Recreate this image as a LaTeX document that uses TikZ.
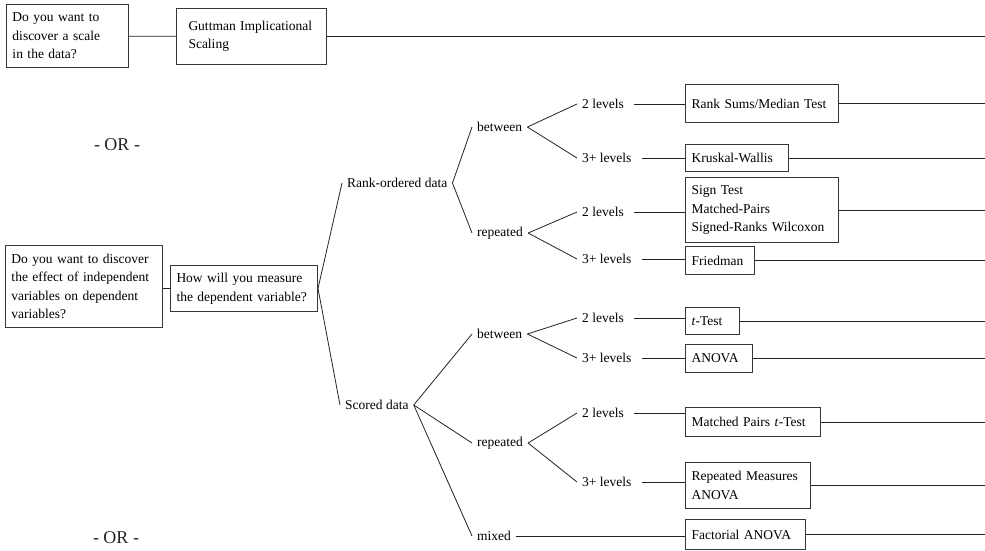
\documentclass[tikz,border=0pt]{standalone}
\usepackage{fontspec}
\setmainfont{Liberation Serif}
\usepackage{tikz}
\usetikzlibrary{positioning}
\usepackage{xcolor}
\definecolor{tgline}{RGB}{35,35,35}
\definecolor{tgbox}{RGB}{55,55,55}
\tikzstyle{branch} = [line width=0.8pt, color=tgline]

\begin{document}
\begin{tikzpicture}[x=1pt, y=-1pt,
    font=\fontsize{13.5}{18.5}\selectfont,
    choice/.style={rectangle, draw=tgbox, line width=1pt, anchor=north west, align=left, inner xsep=6pt, inner ysep=0pt},
    term/.style={anchor=west, inner xsep=5pt, inner ysep=2pt},
    alt/.style={font=\fontsize{18}{22}\selectfont, text=tgline}]

\useasboundingbox (0,0) rectangle (985,550);
\coordinate (rim) at (985,0);

% Scale question
\node[choice, text width=110pt, minimum height=63pt] (scale) at (6,4) {Do you want to\\discover a scale\\in the data?};
\node[choice, inner xsep=12pt, text width=126pt, minimum height=56pt] (guttman) at (176,8) {Guttman Implicational\\Scaling};

% Alternatives
\node[alt] (ortop) at (117,145) {- OR -};
\node[alt] (orbottom) at (116,538) {- OR -};

% Effect question
\node[choice, text width=145pt, minimum height=82pt] (effect) at (5,245) {Do you want to discover\\the effect of independent\\variables on dependent\\variables?};
\node[choice, text width=135pt, minimum height=46pt] (measure) at (170,265) {How will you measure\\the dependent variable?};

% Kind of data
\node[term] (ranked) at (342,183) {Rank-ordered data};
\node[term] (scored) at (340,405) {Scored data};

% Design
\node[term] (rbetween) at (472,127) {between};
\node[term] (rrepeated) at (472,233) {repeated};
\node[term] (sbetween) at (472,334) {between};
\node[term] (srepeated) at (472,443) {repeated};
\node[term] (smixed) at (472,536) {mixed};

% Levels
\node[term] (rb2) at (577,104) {2 levels};
\node[term] (rb3) at (577,158) {3+ levels};
\node[term] (rr2) at (577,212) {2 levels};
\node[term] (rr3) at (577,259) {3+ levels};
\node[term] (sb2) at (577,318) {2 levels};
\node[term] (sb3) at (577,358) {3+ levels};
\node[term] (sr2) at (577,413) {2 levels};
\node[term] (sr3) at (577,482) {3+ levels};

% Tests
\node[choice, text width=141pt, minimum height=38pt] (ranksums) at (685,84) {Rank Sums/Median Test};
\node[choice, text width=91pt, minimum height=27pt] (kruskal) at (685,144) {Kruskal-Wallis};
\node[choice, text width=141pt, minimum height=65pt] (signtest) at (685,177) {Sign Test\\Matched-Pairs\\Signed-Ranks Wilcoxon};
\node[choice, text width=57pt, minimum height=28pt] (friedman) at (685,246) {Friedman};
\node[choice, text width=42pt, minimum height=27pt] (ttest) at (685,307) {\textit{t}-Test};
\node[choice, text width=55pt, minimum height=28pt] (anova) at (685,344) {ANOVA};
\node[choice, text width=123pt, minimum height=29pt] (mpairs) at (685,407) {Matched Pairs \textit{t}-Test};
\node[choice, text width=113pt, minimum height=46pt] (repmeas) at (685,462) {Repeated Measures\\ANOVA};
\node[choice, text width=108pt, minimum height=30pt] (factorial) at (685,519) {Factorial ANOVA};

% Connections
\draw[branch] (scale) -- (guttman);
\draw[branch] (measure.west -| effect.east) -- (measure.west);

\draw[branch] (measure.east) -- (ranked.west);
\draw[branch] (measure.east) -- (scored.west);

\draw[branch] (ranked.east) -- (rbetween.west);
\draw[branch] (ranked.east) -- (rrepeated.west);
\draw[branch] (scored.east) -- (sbetween.west);
\draw[branch] (scored.east) -- (srepeated.west);
\draw[branch] (scored.east) -- (smixed.west);

\draw[branch] (rbetween.east) -- (rb2.west);
\draw[branch] (rbetween.east) -- (rb3.west);
\draw[branch] (rrepeated.east) -- (rr2.west);
\draw[branch] (rrepeated.east) -- (rr3.west);
\draw[branch] (sbetween.east) -- (sb2.west);
\draw[branch] (sbetween.east) -- (sb3.west);
\draw[branch] (srepeated.east) -- (sr2.west);
\draw[branch] (srepeated.east) -- (sr3.west);

% Levels to tests
\draw[branch] ([xshift=5pt]rb2.east) -- (rb2.east -| ranksums.west);
\draw[branch] ([xshift=5pt]rb3.east) -- (rb3.east -| kruskal.west);
\draw[branch] ([xshift=5pt]rr2.east) -- (rr2.east -| signtest.west);
\draw[branch] ([xshift=5pt]rr3.east) -- (rr3.east -| friedman.west);
\draw[branch] ([xshift=5pt]sb2.east) -- (sb2.east -| ttest.west);
\draw[branch] ([xshift=5pt]sb3.east) -- (sb3.east -| anova.west);
\draw[branch] ([xshift=5pt]sr2.east) -- (sr2.east -| mpairs.west);
\draw[branch] ([xshift=5pt]sr3.east) -- (sr3.east -| repmeas.west);
\draw[branch] (smixed.east) -- (smixed.east -| factorial.west);

% Out to the edge
\draw[branch] (guttman.east) -- (guttman.east -| rim);
\draw[branch] (ranksums.east) -- (ranksums.east -| rim);
\draw[branch] (kruskal.east) -- (kruskal.east -| rim);
\draw[branch] (signtest.east) -- (signtest.east -| rim);
\draw[branch] (friedman.east) -- (friedman.east -| rim);
\draw[branch] (ttest.east) -- (ttest.east -| rim);
\draw[branch] (anova.east) -- (anova.east -| rim);
\draw[branch] (mpairs.east) -- (mpairs.east -| rim);
\draw[branch] (repmeas.east) -- (repmeas.east -| rim);
\draw[branch] (factorial.east) -- (factorial.east -| rim);
\end{tikzpicture}
\end{document}
